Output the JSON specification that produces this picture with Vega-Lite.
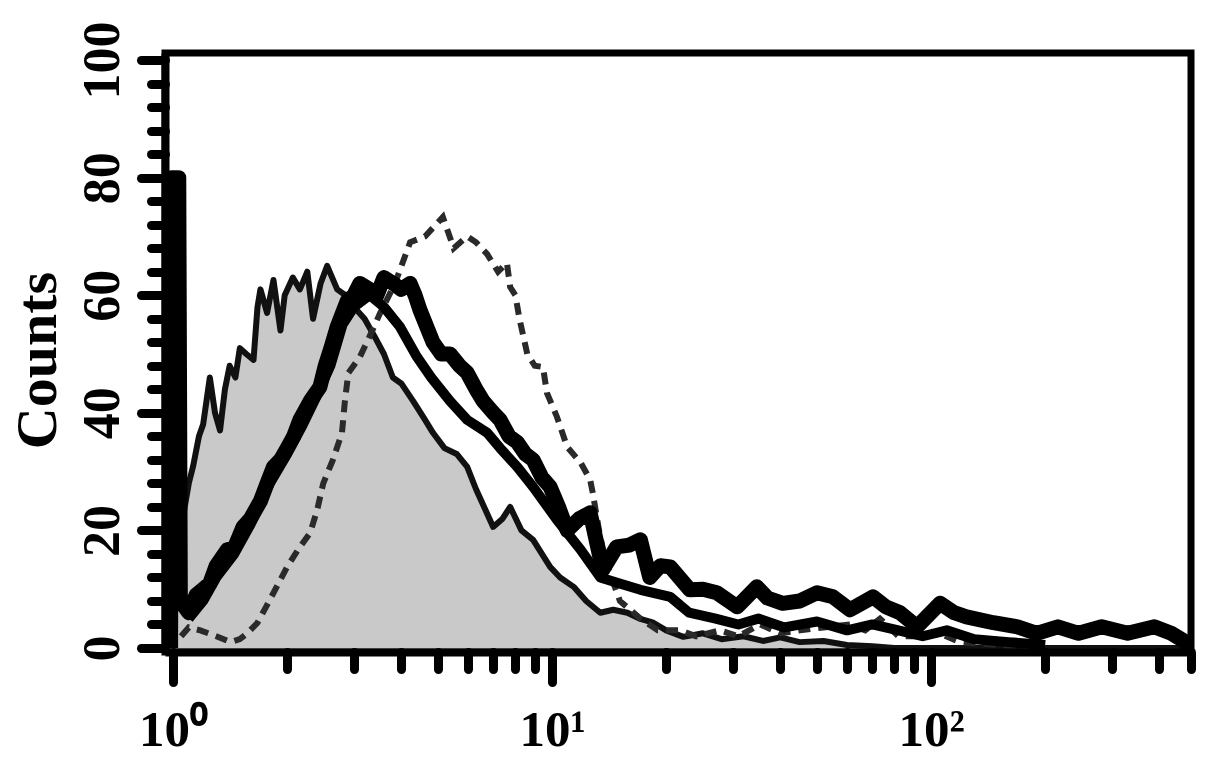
{
  "$schema": "https://vega.github.io/schema/vega-lite/v6.json",
  "width": 1026,
  "height": 599,
  "autosize": "none",
  "padding": {"left": 165, "top": 53, "right": 14, "bottom": 106},
  "background": "white",
  "config": {"view": {"stroke": "black", "strokeWidth": 7}, "font": "Liberation Serif"},
  "data": {"values": [
    {"s":"ctrl","x":1.0,"y":40},{"s":"ctrl","x":1.04,"y":40},{"s":"ctrl","x":1.06,"y":22},{"s":"ctrl","x":1.1,"y":28},{"s":"ctrl","x":1.13,"y":31},{"s":"ctrl","x":1.17,"y":36},{"s":"ctrl","x":1.2,"y":38},{"s":"ctrl","x":1.25,"y":46},{"s":"ctrl","x":1.29,"y":40},{"s":"ctrl","x":1.33,"y":37},{"s":"ctrl","x":1.37,"y":44},{"s":"ctrl","x":1.41,"y":48},{"s":"ctrl","x":1.46,"y":46},{"s":"ctrl","x":1.5,"y":51},{"s":"ctrl","x":1.56,"y":50},{"s":"ctrl","x":1.63,"y":49},{"s":"ctrl","x":1.67,"y":58},{"s":"ctrl","x":1.7,"y":61},{"s":"ctrl","x":1.77,"y":57},{"s":"ctrl","x":1.84,"y":62.6},{"s":"ctrl","x":1.92,"y":54},{"s":"ctrl","x":1.97,"y":60},{"s":"ctrl","x":2.07,"y":63},{"s":"ctrl","x":2.16,"y":61},{"s":"ctrl","x":2.26,"y":64},{"s":"ctrl","x":2.34,"y":56},{"s":"ctrl","x":2.45,"y":62},{"s":"ctrl","x":2.55,"y":65},{"s":"ctrl","x":2.71,"y":61},{"s":"ctrl","x":2.85,"y":60},{"s":"ctrl","x":3.0,"y":58},{"s":"ctrl","x":3.2,"y":56},{"s":"ctrl","x":3.4,"y":53},{"s":"ctrl","x":3.6,"y":50},{"s":"ctrl","x":3.8,"y":46},{"s":"ctrl","x":4.0,"y":45},{"s":"ctrl","x":4.3,"y":42},{"s":"ctrl","x":4.6,"y":39},{"s":"ctrl","x":4.85,"y":36.6},{"s":"ctrl","x":5.2,"y":34},{"s":"ctrl","x":5.6,"y":33},{"s":"ctrl","x":5.97,"y":30.8},{"s":"ctrl","x":6.3,"y":27},{"s":"ctrl","x":6.99,"y":20.6},{"s":"ctrl","x":7.4,"y":22},{"s":"ctrl","x":7.75,"y":24},{"s":"ctrl","x":8.3,"y":20},{"s":"ctrl","x":8.91,"y":18.4},{"s":"ctrl","x":9.4,"y":16},{"s":"ctrl","x":9.88,"y":13.8},{"s":"ctrl","x":10.5,"y":12},{"s":"ctrl","x":11.4,"y":10.4},{"s":"ctrl","x":12.3,"y":8},{"s":"ctrl","x":13.4,"y":6},{"s":"ctrl","x":14.5,"y":6.5},{"s":"ctrl","x":15.8,"y":6},{"s":"ctrl","x":17,"y":5},{"s":"ctrl","x":18.5,"y":4.3},{"s":"ctrl","x":20,"y":3},{"s":"ctrl","x":22.2,"y":1.9},{"s":"ctrl","x":25,"y":2.5},{"s":"ctrl","x":28,"y":1.5},{"s":"ctrl","x":32,"y":2},{"s":"ctrl","x":36,"y":1.2},{"s":"ctrl","x":40,"y":1.8},{"s":"ctrl","x":45,"y":1},{"s":"ctrl","x":52,"y":1.2},{"s":"ctrl","x":60,"y":0.5},{"s":"ctrl","x":70,"y":0.3},{"s":"ctrl","x":80,"y":0},{"s":"ctrl","x":485,"y":0},

    {"s":"s3","x":1.05,"y":2},{"s":"s3","x":1.1,"y":3.5},{"s":"s3","x":1.18,"y":3},{"s":"s3","x":1.3,"y":2},{"s":"s3","x":1.42,"y":1},{"s":"s3","x":1.5,"y":1.5},{"s":"s3","x":1.57,"y":2.5},{"s":"s3","x":1.67,"y":4.3},{"s":"s3","x":1.8,"y":8.2},{"s":"s3","x":2.0,"y":13.8},{"s":"s3","x":2.15,"y":17},{"s":"s3","x":2.3,"y":19.6},{"s":"s3","x":2.4,"y":23.5},{"s":"s3","x":2.49,"y":28},{"s":"s3","x":2.64,"y":32},{"s":"s3","x":2.79,"y":36.6},{"s":"s3","x":2.84,"y":42},{"s":"s3","x":2.9,"y":46.8},{"s":"s3","x":3.11,"y":49.5},{"s":"s3","x":3.3,"y":53},{"s":"s3","x":3.52,"y":57},{"s":"s3","x":3.85,"y":62},{"s":"s3","x":4.22,"y":69},{"s":"s3","x":4.62,"y":70},{"s":"s3","x":5.15,"y":73.3},{"s":"s3","x":5.5,"y":68},{"s":"s3","x":5.97,"y":70},{"s":"s3","x":6.3,"y":69},{"s":"s3","x":6.74,"y":67},{"s":"s3","x":7.2,"y":64},{"s":"s3","x":7.6,"y":65.5},{"s":"s3","x":7.75,"y":61.4},{"s":"s3","x":8.0,"y":60},{"s":"s3","x":8.2,"y":56},{"s":"s3","x":8.6,"y":50},{"s":"s3","x":9.0,"y":48},{"s":"s3","x":9.46,"y":47.8},{"s":"s3","x":9.69,"y":43.4},{"s":"s3","x":10.3,"y":39.3},{"s":"s3","x":10.96,"y":34.2},{"s":"s3","x":11.9,"y":31.5},{"s":"s3","x":12.6,"y":28.6},{"s":"s3","x":12.8,"y":26.4},{"s":"s3","x":13.3,"y":20},{"s":"s3","x":13.8,"y":15},{"s":"s3","x":15.1,"y":8},{"s":"s3","x":17.1,"y":5},{"s":"s3","x":19,"y":3},{"s":"s3","x":21.8,"y":3},{"s":"s3","x":24,"y":2},{"s":"s3","x":27.7,"y":3},{"s":"s3","x":31,"y":2},{"s":"s3","x":35.4,"y":4},{"s":"s3","x":40,"y":2.5},{"s":"s3","x":45.1,"y":3},{"s":"s3","x":52,"y":3.5},{"s":"s3","x":61.1,"y":4},{"s":"s3","x":67,"y":3},{"s":"s3","x":73.3,"y":5},{"s":"s3","x":82,"y":2},{"s":"s3","x":93.5,"y":2},{"s":"s3","x":105,"y":2.5},{"s":"s3","x":119,"y":1},{"s":"s3","x":152,"y":0.5},{"s":"s3","x":200,"y":0},

    {"s":"s2","x":1.1,"y":5},{"s":"s2","x":1.2,"y":8},{"s":"s2","x":1.3,"y":12},{"s":"s2","x":1.45,"y":16},{"s":"s2","x":1.6,"y":21},{"s":"s2","x":1.8,"y":28},{"s":"s2","x":2.0,"y":33},{"s":"s2","x":2.2,"y":38},{"s":"s2","x":2.4,"y":43},{"s":"s2","x":2.6,"y":48},{"s":"s2","x":2.8,"y":55},{"s":"s2","x":3.0,"y":58},{"s":"s2","x":3.3,"y":60},{"s":"s2","x":3.6,"y":58},{"s":"s2","x":3.97,"y":54.6},{"s":"s2","x":4.4,"y":49.5},{"s":"s2","x":4.8,"y":46},{"s":"s2","x":5.38,"y":42},{"s":"s2","x":5.97,"y":38.8},{"s":"s2","x":6.74,"y":36.6},{"s":"s2","x":7.29,"y":34},{"s":"s2","x":8.09,"y":30.8},{"s":"s2","x":8.91,"y":27.4},{"s":"s2","x":10.3,"y":21.8},{"s":"s2","x":11.9,"y":16.7},{"s":"s2","x":13.4,"y":12},{"s":"s2","x":15,"y":11},{"s":"s2","x":17.1,"y":9.9},{"s":"s2","x":20.5,"y":8.7},{"s":"s2","x":23,"y":6},{"s":"s2","x":27,"y":5},{"s":"s2","x":31,"y":4},{"s":"s2","x":35,"y":5},{"s":"s2","x":41,"y":3.5},{"s":"s2","x":50,"y":4.5},{"s":"s2","x":60,"y":3},{"s":"s2","x":70,"y":4},{"s":"s2","x":82,"y":3},{"s":"s2","x":95,"y":2},{"s":"s2","x":110,"y":3},{"s":"s2","x":130,"y":1.5},{"s":"s2","x":160,"y":1},{"s":"s2","x":200,"y":0.5},

    {"s":"s1","x":0.985,"y":0},{"s":"s1","x":0.99,"y":80},{"s":"s1","x":1.035,"y":80},{"s":"s1","x":1.045,"y":8},{"s":"s1","x":1.1,"y":6},{"s":"s1","x":1.15,"y":9},{"s":"s1","x":1.2,"y":10},{"s":"s1","x":1.25,"y":11},{"s":"s1","x":1.3,"y":14},{"s":"s1","x":1.39,"y":16.7},{"s":"s1","x":1.45,"y":17},{"s":"s1","x":1.53,"y":20.6},{"s":"s1","x":1.6,"y":22},{"s":"s1","x":1.7,"y":25},{"s":"s1","x":1.77,"y":28},{"s":"s1","x":1.84,"y":30.8},{"s":"s1","x":1.92,"y":32},{"s":"s1","x":2.0,"y":34},{"s":"s1","x":2.08,"y":36},{"s":"s1","x":2.16,"y":38.8},{"s":"s1","x":2.3,"y":42},{"s":"s1","x":2.44,"y":44.4},{"s":"s1","x":2.52,"y":48},{"s":"s1","x":2.6,"y":50.7},{"s":"s1","x":2.71,"y":54.6},{"s":"s1","x":2.8,"y":57},{"s":"s1","x":2.88,"y":59},{"s":"s1","x":3.0,"y":60},{"s":"s1","x":3.11,"y":62},{"s":"s1","x":3.3,"y":61},{"s":"s1","x":3.45,"y":60},{"s":"s1","x":3.6,"y":63},{"s":"s1","x":3.81,"y":62},{"s":"s1","x":4.0,"y":61},{"s":"s1","x":4.22,"y":62},{"s":"s1","x":4.35,"y":60},{"s":"s1","x":4.48,"y":57.5},{"s":"s1","x":4.85,"y":52},{"s":"s1","x":5.1,"y":50},{"s":"s1","x":5.38,"y":50},{"s":"s1","x":5.7,"y":48},{"s":"s1","x":5.97,"y":46.8},{"s":"s1","x":6.3,"y":44},{"s":"s1","x":6.58,"y":42},{"s":"s1","x":7.0,"y":40},{"s":"s1","x":7.29,"y":38.8},{"s":"s1","x":7.7,"y":36},{"s":"s1","x":8.09,"y":35},{"s":"s1","x":8.5,"y":33},{"s":"s1","x":8.91,"y":32},{"s":"s1","x":9.4,"y":29},{"s":"s1","x":9.88,"y":27.4},{"s":"s1","x":10.4,"y":24},{"s":"s1","x":10.96,"y":20},{"s":"s1","x":11.8,"y":22},{"s":"s1","x":12.6,"y":23},{"s":"s1","x":13.6,"y":13.3},{"s":"s1","x":14.8,"y":17.2},{"s":"s1","x":16,"y":17.5},{"s":"s1","x":17.1,"y":18.4},{"s":"s1","x":18.1,"y":12},{"s":"s1","x":19.3,"y":14},{"s":"s1","x":20.5,"y":13.8},{"s":"s1","x":23.1,"y":9.9},{"s":"s1","x":25,"y":10},{"s":"s1","x":27.2,"y":9.4},{"s":"s1","x":30.8,"y":7},{"s":"s1","x":34.7,"y":10.4},{"s":"s1","x":37,"y":8.5},{"s":"s1","x":40.6,"y":7.6},{"s":"s1","x":45,"y":8},{"s":"s1","x":50,"y":9.4},{"s":"s1","x":55.1,"y":8.7},{"s":"s1","x":61.1,"y":6.5},{"s":"s1","x":70.3,"y":8.7},{"s":"s1","x":76,"y":7},{"s":"s1","x":82.8,"y":6},{"s":"s1","x":91.8,"y":3.6},{"s":"s1","x":105.6,"y":7.6},{"s":"s1","x":115,"y":6},{"s":"s1","x":124,"y":5.3},{"s":"s1","x":146,"y":4.3},{"s":"s1","x":169,"y":3.6},{"s":"s1","x":190,"y":2.5},{"s":"s1","x":216,"y":3.6},{"s":"s1","x":245,"y":2.5},{"s":"s1","x":282,"y":3.6},{"s":"s1","x":330,"y":2.5},{"s":"s1","x":388,"y":3.6},{"s":"s1","x":430,"y":2.5},{"s":"s1","x":465,"y":1.2},{"s":"s1","x":485,"y":0}
  ]},
  "encoding": {
    "x": {"field": "x", "type": "quantitative",
      "scale": {"type": "log", "domain": [0.952, 485], "nice": false},
      "axis": {
        "values": [1,2,3,4,5,6,7,8,9,10,20,30,40,50,60,70,80,90,100,200,300,400,484],
        "labelExpr": "datum.value == 1 ? '10⁰' : datum.value == 10 ? '10¹' : datum.value == 100 ? '10²' : ''",
        "title": null, "grid": false, "zindex": 1,
        "domain": true, "domainColor": "black", "domainWidth": 8,
        "tickColor": "black", "tickWidth": 9, "tickCap": "round",
        "tickSize": {"condition": {"test": "datum.value != 1 && datum.value != 10 && datum.value != 100", "value": 17}, "value": 30},
        "labelFont": "Liberation Serif", "labelFontWeight": "bold", "labelFontSize": 51, "labelColor": "black",
        "labelPadding": 63, "labelBaseline": "alphabetic", "labelAlign": "center",
        "labelOverlap": false, "labelBound": false, "labelFlush": false
      }},
    "y": {"field": "y", "type": "quantitative",
      "scale": {"domain": [-0.68, 101.2], "nice": false, "zero": false},
      "axis": {
        "values": [0,4,8,12,16,20,24,28,32,36,40,44,48,52,56,60,64,68,72,76,80,84,88,92,96,100],
        "labelExpr": "datum.value % 20 == 0 ? datum.label : ''",
        "format": "d",
        "title": "Counts", "titleFont": "Liberation Serif", "titleFontWeight": "bold", "titleFontSize": 58, "titleColor": "black",
        "titleAngle": -90, "titleAlign": "center", "titleBaseline": "alphabetic", "titleX": -110, "titleY": 307,
        "grid": false, "zindex": 1,
        "domain": true, "domainColor": "black", "domainWidth": 8,
        "tickColor": "black", "tickWidth": 9, "tickCap": "round",
        "tickSize": {"condition": {"test": "datum.value % 20 != 0", "value": 14}, "value": 24},
        "labelFont": "Liberation Serif", "labelFontWeight": "bold", "labelFontSize": 52, "labelColor": "black",
        "labelAngle": -90, "labelAlign": "center", "labelBaseline": "alphabetic", "labelPadding": 23,
        "labelOverlap": false, "labelBound": false, "labelFlush": false
      }}
  },
  "layer": [
    {"transform": [{"filter": "datum.s == 'ctrl'"}],
     "mark": {"type": "area", "color": "#c9c9c9", "opacity": 1, "fillOpacity": 1, "clip": true, "line": {"color": "#111111", "strokeWidth": 6, "strokeJoin": "round"}}},
    {"transform": [{"filter": "datum.s == 's3'"}],
     "mark": {"type": "line", "color": "#2a2a2a", "strokeWidth": 6, "strokeDash": [12, 8], "clip": true}},
    {"transform": [{"filter": "datum.s == 's2'"}],
     "mark": {"type": "line", "color": "black", "strokeWidth": 10, "strokeJoin": "round", "clip": true}},
    {"transform": [{"filter": "datum.s == 's1'"}],
     "mark": {"type": "line", "color": "black", "strokeWidth": 15, "strokeJoin": "round", "clip": true}}
  ]
}
